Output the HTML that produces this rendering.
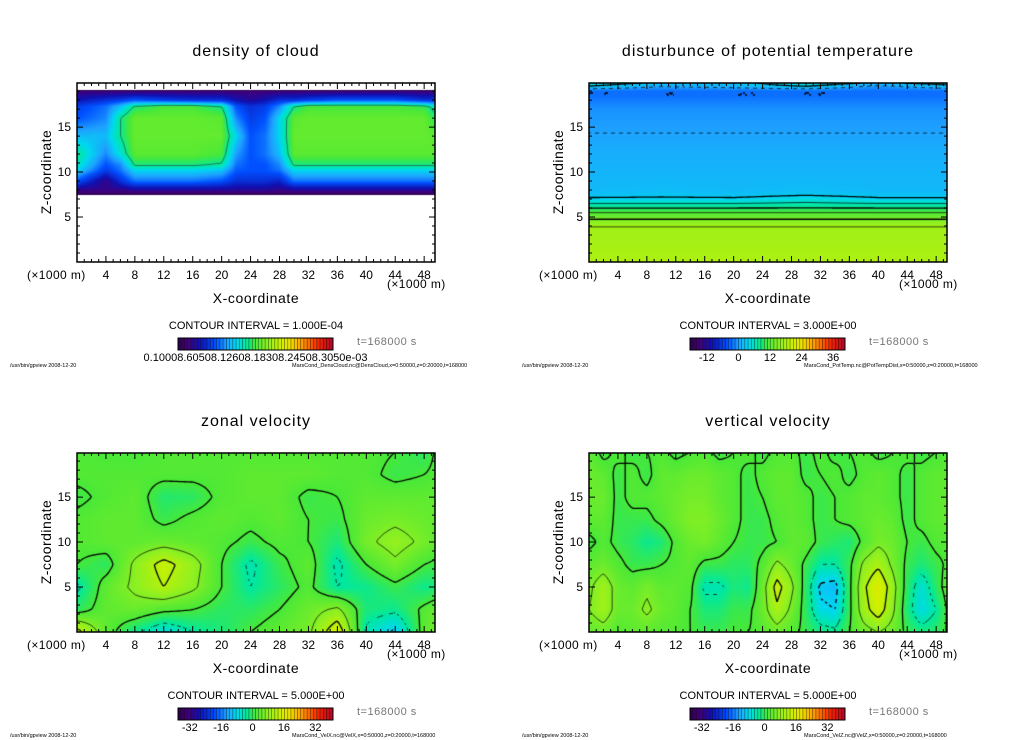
<!DOCTYPE html>
<html><head><meta charset="utf-8">
<style>
html,body{margin:0;padding:0;background:#fff;}
#root{position:relative;width:1024px;height:740px;overflow:hidden;background:#fff;font-family:"Liberation Sans",sans-serif;color:#000;}
.t{position:absolute;white-space:nowrap;line-height:1;}
canvas{position:absolute;}
svg{position:absolute;left:0;top:0;}
</style></head>
<body>
<div id="root"></div>
<script>
// ---------- DATA ----------
const densX = [0,4,6,8,12,16,20,22,24,26,28,30,32,36,40,44,48,50];
const densZ = [20,19.5,19,18,17.3,16,14,12,10.8,10.2,9,8,7.5,7,0];
const densVals = [
 [-1,-1,-1,-1,-1,-1,-1,-1,-1,-1,-1,-1,-1,-1,-1,-1,-1,-1],
 [-0.4,-0.4,-0.4,-0.4,-0.4,-0.4,-0.4,-0.4,-0.4,-0.4,-0.4,-0.4,-0.4,-0.4,-0.4,-0.4,-0.4,-0.4],
 [0.08,0.08,0.08,0.08,0.08,0.08,0.08,0.08,0.08,0.08,0.08,0.08,0.08,0.08,0.08,0.08,0.08,0.08],
 [0.15,0.2,0.22,0.25,0.22,0.2,0.2,0.15,0.12,0.15,0.2,0.2,0.22,0.25,0.25,0.25,0.2,0.2],
 [0.22,0.28,0.35,0.46,0.5,0.5,0.45,0.25,0.2,0.22,0.3,0.45,0.5,0.5,0.5,0.5,0.48,0.4],
 [0.25,0.3,0.45,0.53,0.53,0.53,0.52,0.3,0.22,0.25,0.38,0.52,0.53,0.53,0.53,0.53,0.53,0.45],
 [0.35,0.35,0.45,0.53,0.53,0.53,0.53,0.38,0.25,0.28,0.38,0.53,0.53,0.53,0.53,0.53,0.53,0.52],
 [0.45,0.3,0.4,0.52,0.52,0.52,0.5,0.32,0.25,0.28,0.35,0.52,0.52,0.52,0.52,0.52,0.52,0.52],
 [0.42,0.25,0.3,0.46,0.46,0.46,0.44,0.28,0.25,0.25,0.3,0.46,0.46,0.46,0.46,0.46,0.46,0.46],
 [0.38,0.22,0.28,0.38,0.38,0.38,0.36,0.26,0.25,0.25,0.28,0.38,0.38,0.38,0.38,0.38,0.38,0.38],
 [0.25,0.1,0.2,0.28,0.28,0.28,0.25,0.2,0.2,0.2,0.18,0.28,0.28,0.28,0.28,0.28,0.28,0.28],
 [0.1,0.1,0.1,0.12,0.12,0.12,0.12,0.12,0.12,0.12,0.1,0.12,0.12,0.12,0.12,0.12,0.12,0.12],
 [0.03,0.03,0.03,0.03,0.03,0.03,0.03,0.03,0.03,0.03,0.03,0.03,0.03,0.03,0.03,0.03,0.03,0.03],
 [-0.4,-0.4,-0.4,-0.4,-0.4,-0.4,-0.4,-0.4,-0.4,-0.4,-0.4,-0.4,-0.4,-0.4,-0.4,-0.4,-0.4,-0.4],
 [-1,-1,-1,-1,-1,-1,-1,-1,-1,-1,-1,-1,-1,-1,-1,-1,-1,-1]
];
const ptX = [0,10,20,30,40,50];
const ptZ = [20,19.5,19,18.5,17,13,10,8,7.5,7,6.5,6,5.5,5,4.5,4,0];
const ptVals = [
 [2,0,-1,3,0,2],
 [0,-3,-2,0,-4,-1],
 [-6,-6,-6,-6,-6,-6],
 [-6,-6,-6,-6,-6,-6],
 [-4,-4,-4,-4,-4,-4],
 [-2.5,-2.5,-2.5,-2.5,-2.5,-2.5],
 [-1.8,-1.8,-1.8,-1.8,-1.8,-1.8],
 [-1.5,-1.2,-1.5,-1.2,-1.5,-1.5],
 [-1,-0.6,-1,-0.3,-1,-1],
 [0.5,0.5,0.5,1.5,0.5,0.5],
 [3,3,3,3.5,3,3],
 [6,6,6,6,6,6],
 [9,9,9,9,9,9],
 [11,11,11,11,11,11],
 [13,13,13,13,13,13],
 [15,15,15,15,15,15],
 [16,16,16,16,16,16]
];
const uX = [0,4,8,12,16,20,24,28,32,36,40,44,48,50];
const uZ = [20,17.5,15,12.5,10,7.5,5,2.5,0];
const uVals = [
 [1,0,0,1,1,1,1,1,1,1,1,0,-2,1],
 [1,1,1,1,1,1,2,2,2,1,1,-1,0,1],
 [-1,1,2,-2.5,-2,1,2,2,-1,0,2,2,2,2],
 [1,2,2,-1,1,2,1,2,0,-1,3,4,3,2],
 [1,2,2,3,2,1,-1,1,0,-3,4,7,4,2],
 [0,-2,6,12,7,0,-6,-1,2,-6,0,4,0,-1],
 [-6,2,6,10,6,0,-5,-2,1,-5,-4,-1,-4,-3],
 [-2,2,3,1,0,-2,-2,0,3,6,-3,-4,1,3],
 [12,2,-4,-9,-5,-3,0,2,4,14,-6,-11,2,4]
];
const wX = [0,2,4,6,8,10,12,14,16,18,20,22,24,26,28,30,32,34,36,38,40,42,44,46,48,50];
const wZ = [20,17.5,15,12.5,10,7.5,5,2.5,0];
const wVals = [
 [2,-1,1,-1,0,1,-1,0,1,-1,0,1,-1,1,1,-1,1,-1,0,1,-1,0,1,-1,0,1],
 [3,2,-1,1,-1,2,2,3,3,2,1,-1,1,2,2,-1,0,1,-1,1,2,1,-1,1,2,2],
 [3,3,-1,1,1,2,3,4,4,2,1,-1,0,2,2,1,-1,0,1,2,2,1,-1,1,2,2],
 [2,2,-1,-1,-1,1,3,5,5,3,1,-1,-1,1,2,1,-1,0,1,2,3,2,-1,1,2,2],
 [-1,1,-1,-2,-4,-3,1,3,4,2,0,-1,-1,0,2,2,-1,-2,-3,1,4,3,0,-1,1,1],
 [2,3,1,-1,-1,0,1,2,-1,-1,-2,-2,1,6,3,-1,-5,-5,-1,6,9,4,-1,-3,-1,1],
 [4,8,3,2,4,2,2,1,-6,-6,-3,-4,3,12,6,-2,-11,-12,-1,9,15,7,-2,-8,-2,3],
 [5,8,3,3,6,3,2,0,-3,-3,-1,-1,3,9,4,-2,-9,-10,-1,8,13,6,-3,-9,-5,2],
 [2,3,1,2,2,1,1,0,-1,-1,0,0,1,3,1,-1,-3,-4,0,3,5,3,-1,-3,-2,1]
];
const xTickLabels = [4,8,12,16,20,24,28,32,36,40,44,48];
const zTickLabels = [5,10,15];
const velBarLabels = [-32,-16,0,16,32];
const ptBarLabels = [-12,0,12,24,36];

// ---------- RENDER ----------
const stops=[[0,'#2a0040'],[0.08,'#40007a'],[0.15,'#1010b0'],[0.25,'#0050ff'],[0.32,'#1ea0ff'],[0.38,'#00d8f0'],[0.44,'#00e8a0'],[0.5,'#48e838'],[0.58,'#90f020'],[0.66,'#d0f000'],[0.72,'#f0e000'],[0.8,'#ff9000'],[0.9,'#f02000'],[1,'#a00030']].map(s=>[s[0],parseInt(s[1].slice(1,3),16),parseInt(s[1].slice(3,5),16),parseInt(s[1].slice(5,7),16)]);
function cmap(t){t=Math.max(0,Math.min(1,t));for(let i=0;i<stops.length-1;i++){const a=stops[i],b=stops[i+1];if(t<=b[0]){const f=(t-a[0])/(b[0]-a[0]);return [a[1]+(b[1]-a[1])*f,a[2]+(b[2]-a[2])*f,a[3]+(b[3]-a[3])*f];}}const l=stops[stops.length-1];return [l[1],l[2],l[3]];}
function seg(arr,v){for(let i=0;i<arr.length-1;i++){const a=arr[i],b=arr[i+1];if((v>=Math.min(a,b))&&(v<=Math.max(a,b))){return [i,b===a?0:(v-a)/(b-a)];}}return [arr.length-2,1];}
function field(xs,zs,vals,x,z){const [i,fx]=seg(xs,x);const [j,fz]=seg(zs,z);const a=vals[j][i],b=vals[j][i+1],c=vals[j+1][i],d=vals[j+1][i+1];return (a*(1-fx)+b*fx)*(1-fz)+(c*(1-fx)+d*fx)*fz;}

const root=document.getElementById('root');
function txt(s,x,y,size,name,opt){opt=opt||{};const d=document.createElement('div');d.className='t';d.textContent=s;d.style.left=x+'px';d.style.top=y+'px';d.style.fontSize=size+'px';if(opt.ls)d.style.letterSpacing=opt.ls+'px';if(opt.color)d.style.color=opt.color;if(opt.tf)d.style.transform=opt.tf;if(opt.weight)d.style.fontWeight=opt.weight;


root.appendChild(d);return d;}

const XMAX=49.5,ZMAX=19.9,BW=358,BH=179;
const panels=[
 {key:'density',ox:0,oy:0,title:'density of cloud',xs:densX,zs:densZ,vals:densVals,vmin:0,vmax:1,blank:0,levels:[0.45],thick:[],ci:'1.000E-04',file:'MarsCond_DensCloud.nc@DensCloud,x=0:50000,z=0:20000,t=168000'},
 {key:'pottemp',ox:512,oy:0,title:'disturbunce of potential temperature',xs:ptX,zs:ptZ,vals:ptVals,vmin:-24,vmax:41,levels:[-6,-3,0,3,6,9,12,15],thick:[-6,0,6,12],ci:'3.000E+00',bar:ptBarLabels,barMin:-18.4,barMax:40.5,file:'MarsCond_PotTemp.nc@PotTempDist,x=0:50000,z=0:20000,t=168000'},
 {key:'zonal',ox:0,oy:370,title:'zonal velocity',xs:uX,zs:uZ,vals:uVals,vmin:-40,vmax:40,levels:[-10,-5,0,5,10],thick:[0,10,-10],ci:'5.000E+00',bar:velBarLabels,barMin:-38,barMax:41,file:'MarsCond_VelX.nc@VelX,x=0:50000,z=0:20000,t=168000'},
 {key:'vertical',ox:512,oy:370,title:'vertical velocity',xs:wX,zs:wZ,vals:wVals,vmin:-40,vmax:40,levels:[-10,-5,0,5,10],thick:[0,10,-10],ci:'5.000E+00',bar:velBarLabels,barMin:-38,barMax:41,file:'MarsCond_VelZ.nc@VelZ,x=0:50000,z=0:20000,t=168000'}
];

panels.forEach(p=>{
 const bx=77+p.ox, by=83+p.oy;
 const cv=document.createElement('canvas');cv.width=BW;cv.height=BH;cv.style.left=bx+'px';cv.style.top=by+'px';
 
 
 root.appendChild(cv);
 const ctx=cv.getContext('2d');const img=ctx.createImageData(BW,BH);
 for(let py=0;py<BH;py++)for(let px=0;px<BW;px++){const x=(px+0.5)/BW*XMAX,z=ZMAX*(1-(py+0.5)/BH);const v=field(p.xs,p.zs,p.vals,x,z);let c;if(p.blank!==undefined&&v<p.blank)c=[255,255,255];else c=cmap((v-p.vmin)/(p.vmax-p.vmin));const k=(py*BW+px)*4;img.data[k]=c[0];img.data[k+1]=c[1];img.data[k+2]=c[2];img.data[k+3]=255;}
 ctx.putImageData(img,0,0);
 const s=2,nx=Math.floor(BW/s)+1,ny=Math.floor(BH/s)+1;const F=[];
 for(let j=0;j<ny;j++){F[j]=[];for(let i=0;i<nx;i++){F[j][i]=field(p.xs,p.zs,p.vals,Math.min(XMAX,i*s/BW*XMAX),Math.max(0,ZMAX*(1-j*s/BH)));}}
 p.levels.forEach(L=>{
  ctx.strokeStyle= p.key==='density'?'#205050':'#000';
  ctx.lineWidth=p.thick.includes(L)?1.3:0.7;
  ctx.beginPath();
  for(let j=0;j<ny-1;j++)for(let i=0;i<nx-1;i++){
   if(L<0&&((i+j)>>1)%2===1)continue;
   const v=[F[j][i],F[j][i+1],F[j+1][i+1],F[j+1][i]];
   const P=[[i,j],[i+1,j],[i+1,j+1],[i,j+1]];const pts=[];
   for(let e=0;e<4;e++){const a=v[e],b=v[(e+1)%4];if((a<L)!==(b<L)){const f=(L-a)/(b-a);const A=P[e],B=P[(e+1)%4];pts.push([(A[0]+(B[0]-A[0])*f)*s,(A[1]+(B[1]-A[1])*f)*s]);}}
   if(pts.length>=2){ctx.moveTo(pts[0][0],pts[0][1]);ctx.lineTo(pts[1][0],pts[1][1]);}
   if(pts.length===4){ctx.moveTo(pts[2][0],pts[2][1]);ctx.lineTo(pts[3][0],pts[3][1]);}
  }
  ctx.stroke();
 });
 const NS='http://www.w3.org/2000/svg';
 const sv=document.createElementNS(NS,'svg');sv.setAttribute('width',1024);sv.setAttribute('height',740);
 
 
 root.appendChild(sv);
 const xp=x=>bx+x/XMAX*BW, zp=z=>by+BH-z/ZMAX*BH;
 let d='';
 for(let x=1;x<XMAX;x++){const L=(x%4===0)?6:3;d+=`M${xp(x)} ${by+BH}v${-L}M${xp(x)} ${by}v${L}`;}
 for(let z=1;z<ZMAX;z++){const L=(z%5===0)?6:3;d+=`M${bx} ${zp(z)}h${L}M${bx+BW} ${zp(z)}h${-L}`;}
 const tk=document.createElementNS(NS,'path');tk.setAttribute('d',d);tk.setAttribute('stroke','#000');tk.setAttribute('stroke-width','1');
 
 
 sv.appendChild(tk);
 const fr=document.createElementNS(NS,'rect');fr.setAttribute('x',bx);fr.setAttribute('y',by);fr.setAttribute('width',BW);fr.setAttribute('height',BH);fr.setAttribute('fill','none');fr.setAttribute('stroke','#000');fr.setAttribute('stroke-width','1.5');
 
 
 sv.appendChild(fr);
 const cbx=178+p.ox,cby=338+p.oy,cbw=155,cbh=12,n=48;
 for(let k=0;k<n;k++){const c=cmap((k+0.5)/n*0.97+0.015);const r=document.createElementNS(NS,'rect');r.setAttribute('x',cbx+k*cbw/n);r.setAttribute('y',cby);r.setAttribute('width',cbw/n);r.setAttribute('height',cbh);r.setAttribute('fill',`rgb(${c[0]|0},${c[1]|0},${c[2]|0})`);r.setAttribute('stroke','rgba(0,0,0,0.45)');r.setAttribute('stroke-width','0.6');
  
  
  sv.appendChild(r);}
 const cf=document.createElementNS(NS,'rect');cf.setAttribute('x',cbx);cf.setAttribute('y',cby);cf.setAttribute('width',cbw);cf.setAttribute('height',cbh);cf.setAttribute('fill','none');cf.setAttribute('stroke','#000');
 
 
 sv.appendChild(cf);
 const tl=txt(p.title,bx+BW/2,44+p.oy,16,'chart-title',{ls:1});tl.style.transform='translateX(-50%)';
 txt('Z-coordinate',46+p.ox,172+p.oy,14,'y-axis-title',{ls:0.5,tf:'translate(-50%,-50%) rotate(-90deg)'});
 zTickLabels.forEach(z=>{const e=txt(String(z),71+p.ox,zp(z)-6,12,'y-tick-label');e.style.transform='translateX(-100%)';});
 xTickLabels.forEach(x=>{const e=txt(String(x),xp(x),269+p.oy,12,'x-tick-label');e.style.transform='translateX(-50%)';});
 txt('(×1000 m)',27+p.ox,269+p.oy,12,'x-unit-left',{ls:0.4});
 txt('(×1000 m)',387+p.ox,278+p.oy,12,'x-unit-right',{ls:0.4});
 const xt=txt('X-coordinate',bx+BW/2,291+p.oy,14,'x-axis-title',{ls:0.6});xt.style.transform='translateX(-50%)';
 const ct=txt('CONTOUR INTERVAL = '+p.ci,256+p.ox,321+p.oy,11,'contour-interval');ct.style.transform='translateX(-50%)';
 txt('t=168000 s',357+p.ox,337+p.oy,11,'time-label',{color:'#777',ls:0.5});
 if(p.bar){p.bar.forEach(v=>{const e=txt(String(v),cbx+(v-p.barMin)/(p.barMax-p.barMin)*cbw,353+p.oy,11,'colorbar-label');e.style.transform='translateX(-50%)';});}
 else{const e=txt('0.10008.60508.12608.18308.24508.3050e-03',cbx+cbw/2,353+p.oy,11,'colorbar-label');e.style.transform='translateX(-50%)';}
 txt('/usr/bin/gpview   2008-12-20',10+p.ox,364+p.oy,5.5,'footer-left');
 txt(p.file,292+p.ox,364+p.oy,5.5,'footer-right');
});
</script>
</body></html>
